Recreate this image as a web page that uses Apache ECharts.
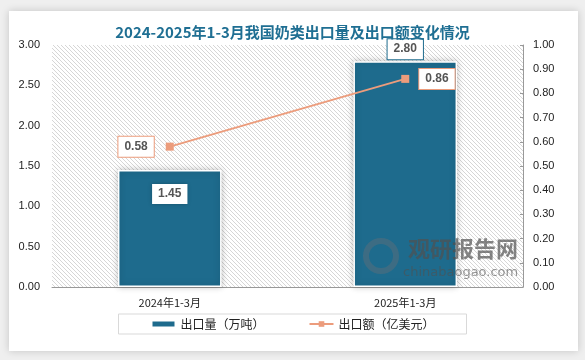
<!DOCTYPE html>
<html>
<head>
<meta charset="utf-8">
<script src="https://cdn.jsdelivr.net/npm/echarts@6/dist/echarts.min.js"></script>
<style>html,body{margin:0;padding:0;background:#efefef;}#c{width:585px;height:360px;}</style>
</head>
<body>
<div id="c"></div>
<script>
const categories = ['2024年1-3月', '2025年1-3月'];
const volumeValues = [1.45, 2.80];
const amountValues = [0.58, 0.86];
const leftTicks = [0, 0.5, 1, 1.5, 2, 2.5, 3];
const rightTicks = [0, 0.1, 0.2, 0.3, 0.4, 0.5, 0.6, 0.7, 0.8, 0.9, 1.0];

const pc = document.createElement('canvas');
pc.width = 4; pc.height = 4;
const pctx = pc.getContext('2d');
pctx.fillStyle = '#ffffff';
pctx.fillRect(0, 0, 4, 4);
pctx.fillStyle = '#d6d6d6';
for (let i = 0; i < 4; i++) pctx.fillRect(i, i, 1, 1);

const barColor = '#1e6b8d';
const lineColor = '#ec9c7c';

const chart = echarts.init(document.getElementById('c'));
chart.setOption({
  backgroundColor: '#efefef',
  animation: false,
  title: {
    text: '2024-2025年1-3月我国奶类出口量及出口额变化情况',
    left: 'center', top: 20,
    textStyle: { color: '#1f6f93', fontSize: 15, fontWeight: 'bold', fontFamily: 'Noto Sans CJK SC' }
  },
  graphic: [
    { type: 'rect', z: -100, silent: true, shape: { x: 9, y: 11, width: 569, height: 340 },
      style: { fill: '#ffffff', shadowBlur: 8, shadowColor: 'rgba(0,0,0,0.18)' } },
    { type: 'text', z: 100, left: 408, top: 238, silent: true,
      style: { text: '观研报告网', fill: 'rgba(80,80,80,0.7)', font: 'bold 22px "Noto Sans CJK SC"' } },
    { type: 'text', z: 100, left: 403, top: 266, silent: true,
      style: { text: 'chinabaogao.com', fill: 'rgba(80,80,80,0.6)', font: '13px "DejaVu Sans"' } },
    { type: 'circle', z: 100, silent: true, shape: { cx: 381, cy: 256, r: 15 },
      style: { fill: 'none', stroke: 'rgba(100,110,120,0.45)', lineWidth: 6 } }
  ],
  grid: {
    left: 52, right: 62, top: 45, bottom: 73,
    show: true, borderWidth: 0,
    backgroundColor: { image: pc, repeat: 'repeat' }
  },
  legend: {
    left: 'center', top: 314,
    padding: [4, 32],
    borderColor: '#d9d9d9', borderWidth: 1,
    itemGap: 44, itemWidth: 24, itemHeight: 7,
    textStyle: { color: '#222', fontSize: 12, fontFamily: 'Noto Sans CJK SC' },
    data: [
      { name: '出口量（万吨）', icon: 'rect' },
      { name: '出口额（亿美元）' }
    ]
  },
  xAxis: {
    type: 'category', data: categories,
    axisLine: { lineStyle: { color: '#999' } },
    axisTick: { show: false },
    axisLabel: { color: '#222', fontSize: 11, margin: 10, fontFamily: 'Noto Sans CJK SC' }
  },
  yAxis: [
    { type: 'value', min: 0, max: 3, interval: 0.5,
      axisLine: { show: false }, axisTick: { show: false }, splitLine: { show: false },
      axisLabel: { color: '#222', fontSize: 11, margin: 12, formatter: v => v.toFixed(2) } },
    { type: 'value', min: 0, max: 1, interval: 0.1, position: 'right',
      axisLine: { show: true, lineStyle: { color: '#999' } },
      axisTick: { show: true, inside: true, length: 3, lineStyle: { color: '#999' } },
      splitLine: { show: false },
      axisLabel: { color: '#222', fontSize: 11, margin: 10, formatter: v => v.toFixed(2) } }
  ],
  series: [
    {
      name: '出口量（万吨）', type: 'bar', yAxisIndex: 0, barWidth: '44%',
      itemStyle: { color: barColor, borderColor: '#ffffff', borderWidth: 1.5,
        shadowBlur: 6, shadowColor: 'rgba(0,0,0,0.25)' },
      data: volumeValues.map((v, i) => ({
        value: v,
        label: i === 0
          ? { show: true, position: 'insideTop', distance: 14, formatter: p => p.value.toFixed(2),
              backgroundColor: '#fff', padding: [4, 6], color: '#555', fontWeight: 'bold', fontSize: 12,
              shadowBlur: 4, shadowColor: 'rgba(0,0,0,0.25)' }
          : { show: true, position: 'top', distance: 2, formatter: p => p.value.toFixed(2),
              backgroundColor: '#fff', borderColor: barColor, borderWidth: 1, padding: [4, 6],
              color: '#555', fontWeight: 'bold', fontSize: 12 }
      }))
    },
    {
      name: '出口额（亿美元）', type: 'line', yAxisIndex: 1,
      symbol: 'rect', symbolSize: 8,
      lineStyle: { color: lineColor, width: 2 },
      itemStyle: { color: lineColor },
      data: amountValues.map((v, i) => ({
        value: v,
        label: { show: true, position: i === 0 ? 'left' : 'right', distance: i === 0 ? 12 : 10,
          formatter: p => p.value.toFixed(2),
          backgroundColor: '#fff', borderColor: lineColor, borderWidth: 1, padding: [4, 6],
          color: '#555', fontWeight: 'bold', fontSize: 12 }
      }))
    }
  ]
});
</script>
</body>
</html>
